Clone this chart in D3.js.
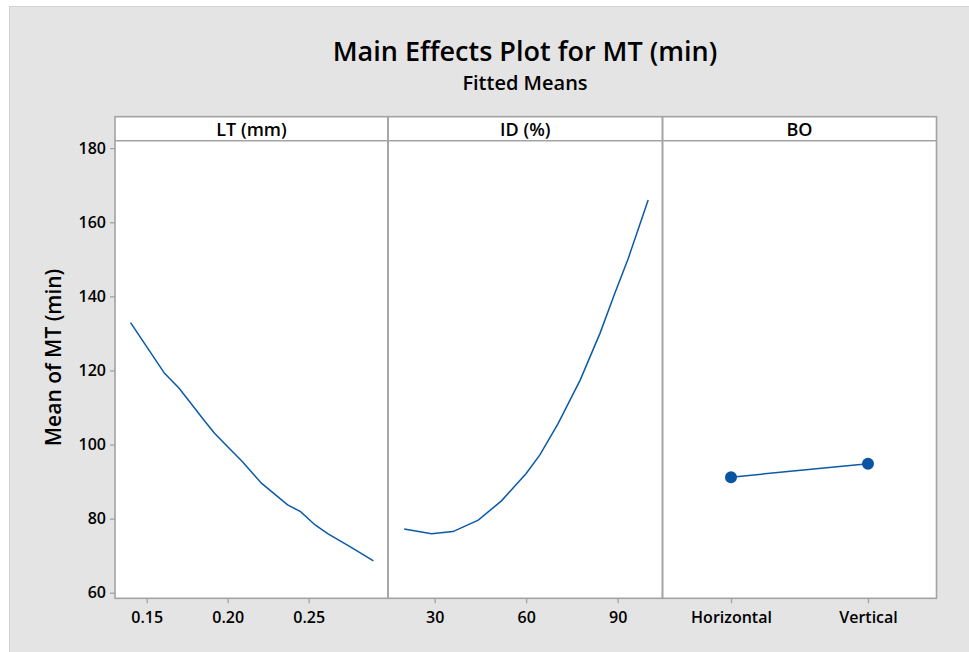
<!DOCTYPE html>
<html>
<head>
<meta charset="utf-8">
<script src="https://cdn.jsdelivr.net/npm/d3@7"></script>
<style>
  body { margin: 0; background: #fff; }
  svg text { font-family: "Open Sans", "Noto Sans", sans-serif; fill: #000; }
</style>
</head>
<body>
<div id="chart"></div>
<script>
// fitted means
const ltValues = [0.14, 0.161, 0.170, 0.186, 0.192, 0.200, 0.209, 0.221, 0.237, 0.245, 0.254, 0.262, 0.275, 0.29];
const ltMeans  = [132.9, 119.2, 115.2, 106.2, 103.0, 99.4, 95.4, 89.5, 83.7, 81.9, 78.3, 75.9, 72.6, 68.6];

const idValues = [20, 29, 36, 44.3, 51.9, 60, 64.5, 70.5, 77.7, 84.2, 89.1, 93.5, 100];
const idMeans  = [77.2, 75.9, 76.5, 79.6, 84.8, 92.2, 97.2, 105.7, 117.4, 130.0, 140.9, 150.3, 166.0];

const boLevels = ["Horizontal", "Vertical"];
const boMeans  = [91.2, 94.8];

const yTicks  = [60, 80, 100, 120, 140, 160, 180];
const ltTicks = [0.15, 0.20, 0.25];
const idTicks = [30, 60, 90];
const panelNames = ["LT (mm)", "ID (%)", "BO"];

const W = 969, H = 652;
const lineColor = "#0a5aa8";
const frameColor = "#a3a3a3";

const svg = d3.select("#chart").append("svg")
    .attr("width", W)
    .attr("height", H);

// gray background panel
svg.append("rect")
    .attr("x", 9.5).attr("y", 6.5)
    .attr("width", W).attr("height", H)
    .attr("fill", "#e4e4e4")
    .attr("stroke", "#d2d2d2");

// titles
svg.append("text")
    .attr("x", 525).attr("y", 61)
    .attr("text-anchor", "middle")
    .style("font-size", "27px")
    .style("font-weight", "600")
    .text("Main Effects Plot for MT (min)");
svg.append("text")
    .attr("x", 525).attr("y", 90)
    .attr("text-anchor", "middle")
    .style("font-size", "20px")
    .style("font-weight", "600")
    .text("Fitted Means");

const stripTop = 116.7, plotTop = 140.7, plotBottom = 598.3;
const edges = [115, 388, 662.5, 936.5];

const y = d3.scaleLinear().domain([58.5, 182]).range([plotBottom, plotTop]);

const xLT = d3.scaleLinear().domain([0.1304, 0.299]).range([edges[0], edges[1]]);
const xID = d3.scaleLinear().domain([14.7, 104.7]).range([edges[1], edges[2]]);
const xBO = d3.scalePoint().domain(boLevels).range([edges[2], edges[3]]).padding(0.5);

// panel backgrounds
for (let i = 0; i < 3; i++) {
    svg.append("rect")
        .attr("x", edges[i]).attr("y", stripTop)
        .attr("width", edges[i + 1] - edges[i])
        .attr("height", plotBottom - stripTop)
        .attr("fill", "#fff");
}

// y axis
svg.append("g")
    .attr("transform", `translate(${edges[0]},0)`)
    .call(d3.axisLeft(y).tickValues(yTicks).tickSize(5).tickPadding(4));

// x axes
const xAxes = [
    d3.axisBottom(xLT).tickValues(ltTicks).tickFormat(d3.format(".2f")),
    d3.axisBottom(xID).tickValues(idTicks),
    d3.axisBottom(xBO)
];
xAxes.forEach(ax => {
    svg.append("g")
        .attr("class", "xaxis")
        .attr("transform", `translate(0,${plotBottom})`)
        .call(ax.tickSize(5).tickPadding(6));
});

svg.selectAll(".domain").remove();
svg.selectAll(".tick line").attr("stroke", frameColor).attr("stroke-width", 1.3);
svg.selectAll(".tick text")
    .style("font-size", "16px")
    .style("font-weight", "600")
    .style("font-family", "'Open Sans', sans-serif");
svg.selectAll(".xaxis .tick text").attr("dy", "0.85em");

// frames and strips
for (let i = 0; i < 3; i++) {
    svg.append("rect")
        .attr("x", edges[i]).attr("y", stripTop)
        .attr("width", edges[i + 1] - edges[i])
        .attr("height", plotBottom - stripTop)
        .attr("fill", "none")
        .attr("stroke", frameColor)
        .attr("stroke-width", 1.6);
    svg.append("line")
        .attr("x1", edges[i]).attr("x2", edges[i + 1])
        .attr("y1", plotTop).attr("y2", plotTop)
        .attr("stroke", frameColor)
        .attr("stroke-width", 1.6);
    svg.append("text")
        .attr("x", (edges[i] + edges[i + 1]) / 2)
        .attr("y", plotTop - 5)
        .attr("text-anchor", "middle")
        .style("font-size", "18px")
        .style("font-weight", "600")
        .text(panelNames[i]);
}

// y axis title
svg.append("text")
    .attr("transform", `translate(61,${(stripTop + plotBottom) / 2}) rotate(-90)`)
    .attr("text-anchor", "middle")
    .style("font-size", "21px")
    .style("font-weight", "600")
    .text("Mean of MT (min)");

// lines
const lt = ltValues.map((v, i) => [v, ltMeans[i]]);
const id = idValues.map((v, i) => [v, idMeans[i]]);
const bo = boLevels.map((v, i) => [v, boMeans[i]]);

svg.append("path")
    .datum(lt)
    .attr("fill", "none")
    .attr("stroke", lineColor)
    .attr("stroke-width", 1.5)
    .attr("d", d3.line().x(d => xLT(d[0])).y(d => y(d[1])));

svg.append("path")
    .datum(id)
    .attr("fill", "none")
    .attr("stroke", lineColor)
    .attr("stroke-width", 1.5)
    .attr("d", d3.line().x(d => xID(d[0])).y(d => y(d[1])));

svg.append("path")
    .datum(bo)
    .attr("fill", "none")
    .attr("stroke", lineColor)
    .attr("stroke-width", 1.5)
    .attr("d", d3.line().x(d => xBO(d[0])).y(d => y(d[1])));

svg.selectAll(".bopt")
    .data(bo)
    .enter().append("circle")
    .attr("class", "bopt")
    .attr("cx", d => xBO(d[0]))
    .attr("cy", d => y(d[1]))
    .attr("r", 6)
    .attr("fill", "#0a55a3");
</script>
</body>
</html>
